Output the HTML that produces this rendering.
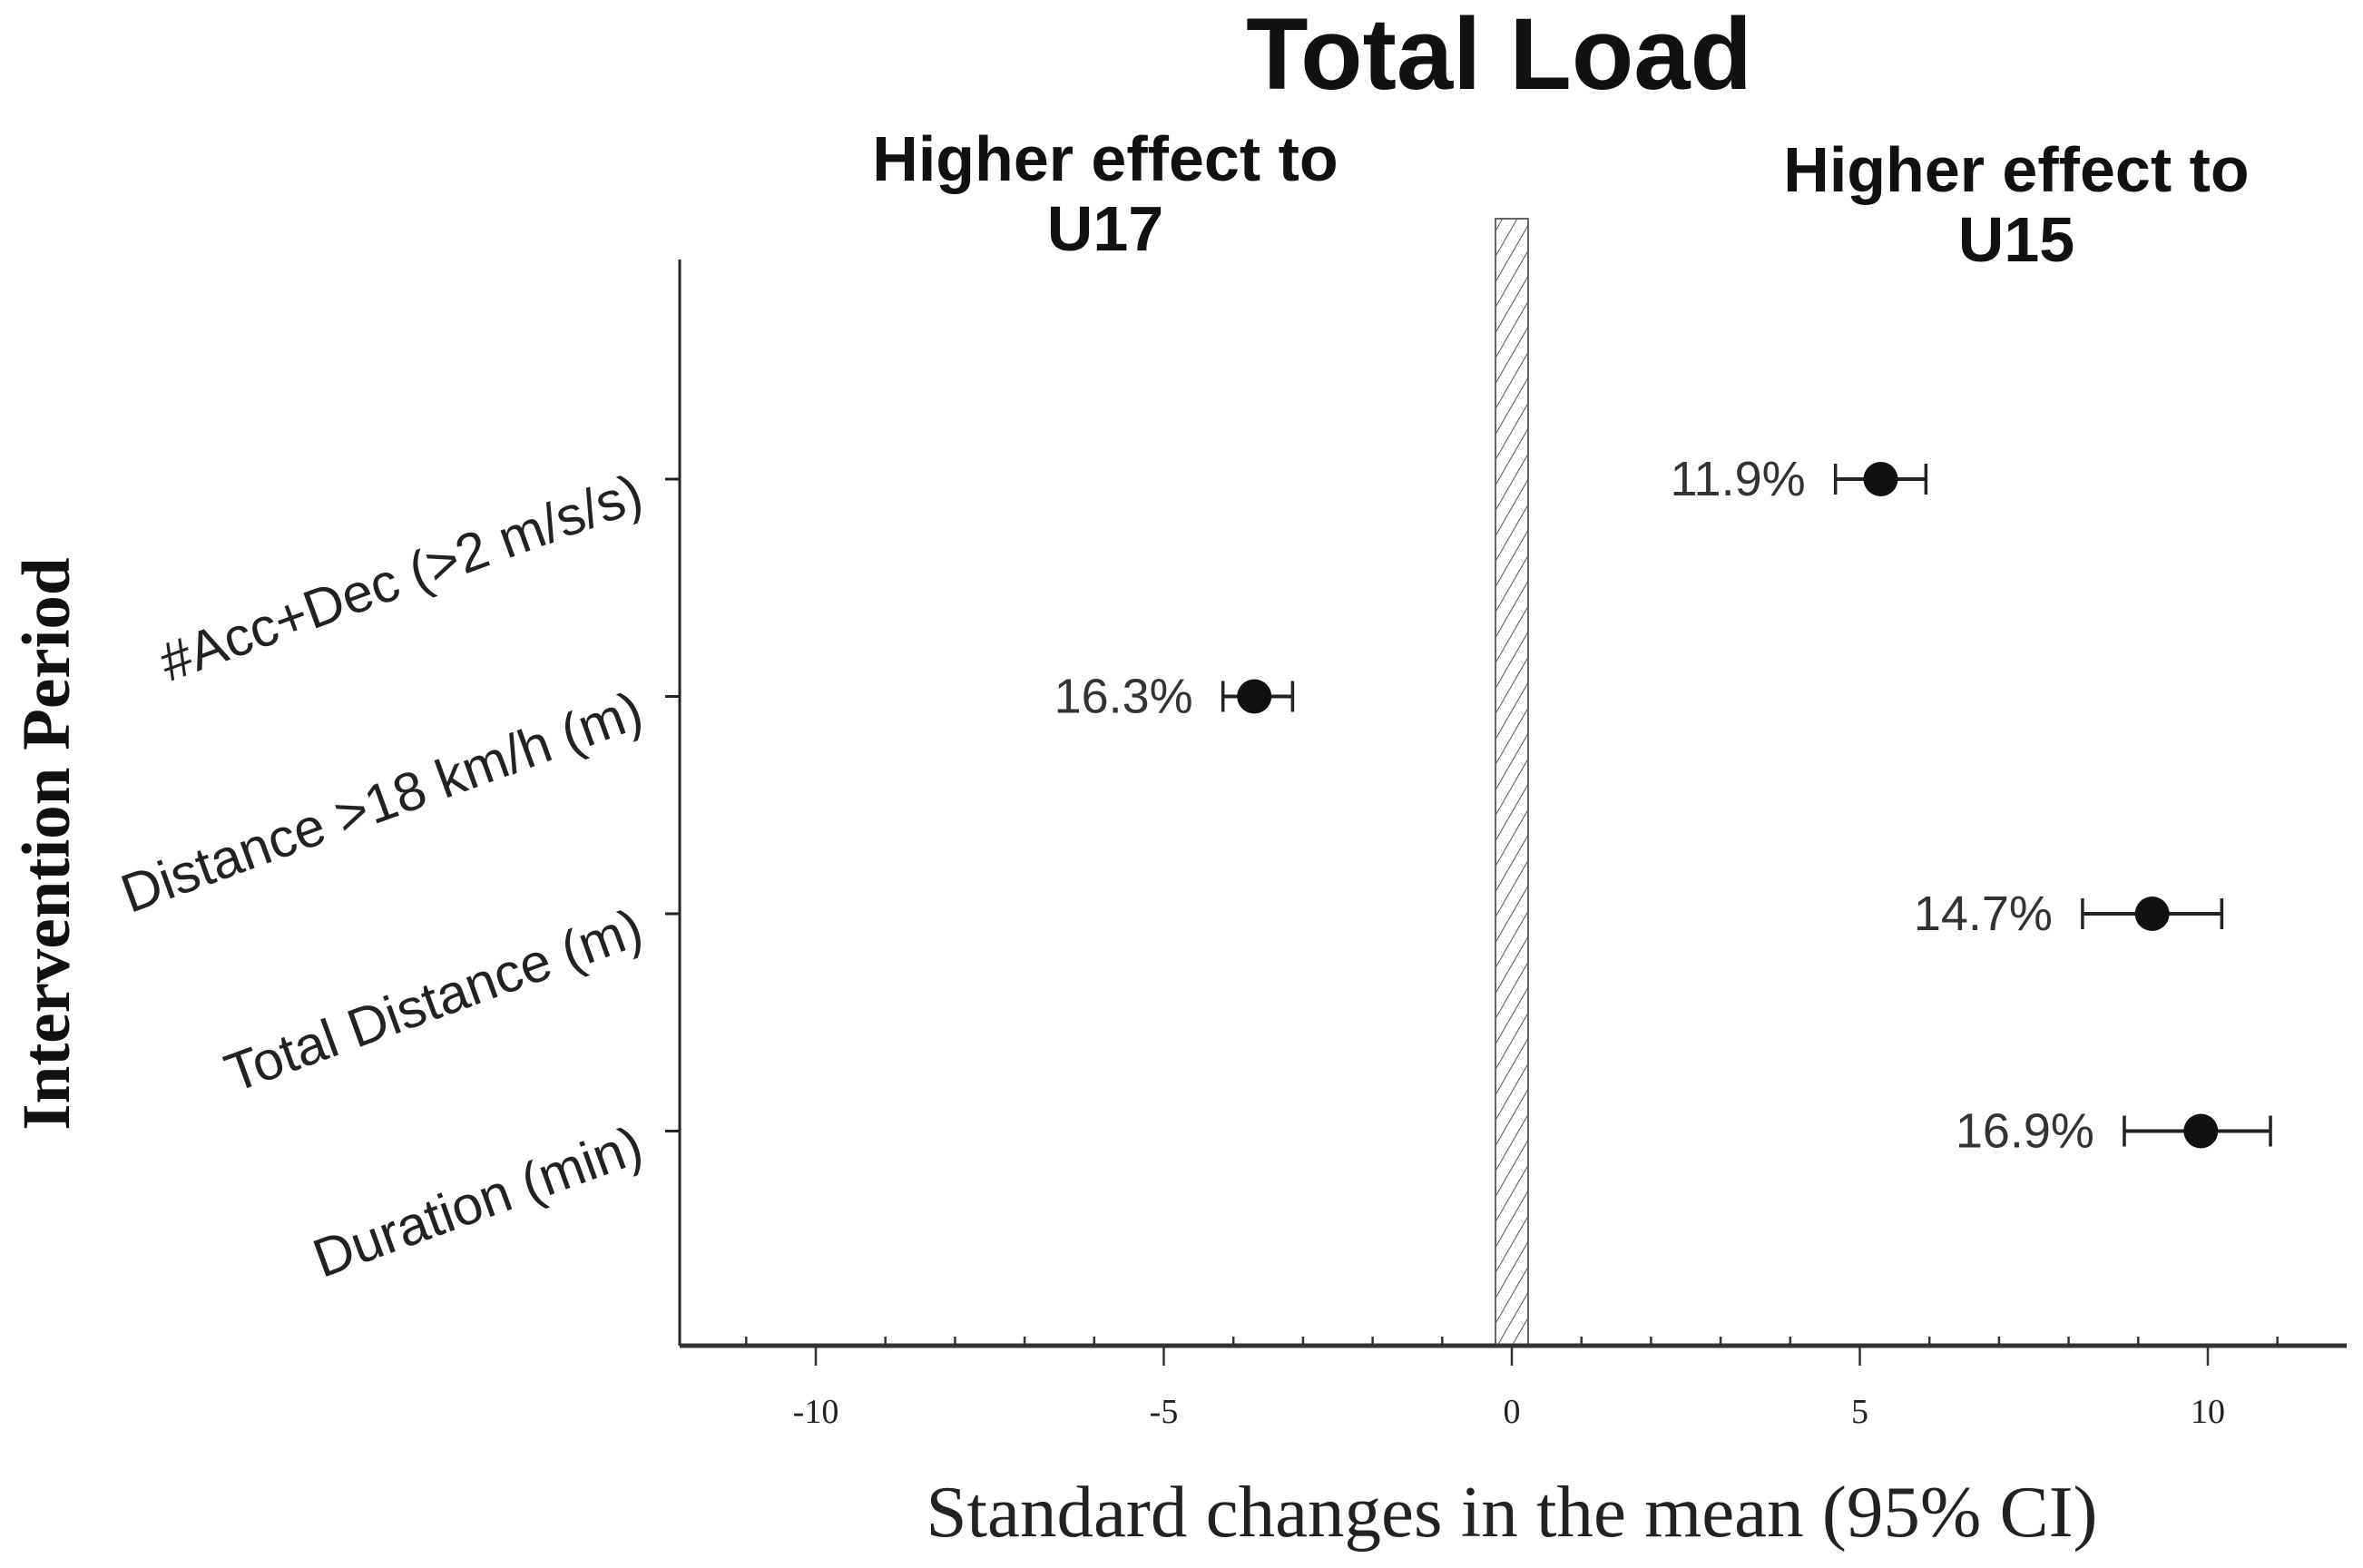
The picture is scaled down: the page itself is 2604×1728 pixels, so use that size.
<!DOCTYPE html>
<html><head><meta charset="utf-8"><style>html,body{margin:0;padding:0;background:#fff}svg{display:block}</style></head>
<body>
<svg id="chart" width="2604" height="1728" viewBox="0 0 2604 1728" xmlns="http://www.w3.org/2000/svg">
<defs><pattern id="hatch" patternUnits="userSpaceOnUse" width="14" height="14" patternTransform="rotate(30)"><rect width="14" height="14" fill="#fff"/><line x1="0" y1="0" x2="0" y2="14" stroke="#555" stroke-width="2"/></pattern></defs>
<text x="1652" y="98" text-anchor="middle" font-family="Liberation Sans, sans-serif" font-weight="bold" font-size="112" fill="#111">Total Load</text>
<text x="1218" y="199" text-anchor="middle" font-family="Liberation Sans, sans-serif" font-weight="bold" font-size="70" fill="#111">Higher effect to</text>
<text x="1218" y="276" text-anchor="middle" font-family="Liberation Sans, sans-serif" font-weight="bold" font-size="70" fill="#111">U17</text>
<text x="2222" y="211" text-anchor="middle" font-family="Liberation Sans, sans-serif" font-weight="bold" font-size="70" fill="#111">Higher effect to</text>
<text x="2222" y="288" text-anchor="middle" font-family="Liberation Sans, sans-serif" font-weight="bold" font-size="70" fill="#111">U15</text>
<text transform="translate(76,930) rotate(-90)" text-anchor="middle" font-family="Liberation Serif, serif" font-weight="bold" font-size="75" fill="#111">Intervention Period</text>
<text x="1666" y="1693" text-anchor="middle" font-family="Liberation Serif, serif" font-size="81" fill="#222">Standard changes in the mean (95% CI)</text>
<g id="plot"></g>
</svg>
<script>
const categories = ["#Acc+Dec (>2 m/s/s)", "Distance >18 km/h (m)", "Total Distance (m)", "Duration (min)"];
const means = [5.3, -3.7, 9.2, 9.9];
const lows = [4.65, -4.15, 8.2, 8.8];
const highs = [5.95, -3.15, 10.2, 10.9];
const pctLabels = ["11.9%", "16.3%", "14.7%", "16.9%"];
const majorTicks = [-10, -5, 0, 5, 10];
const tickLabels = ["-10", "-5", "0", "5", "10"];

const NS = "http://www.w3.org/2000/svg";
const g = document.getElementById("plot");
const X0 = 749, X1 = 2586, YTOP = 286, YB = 1483;
const xs = v => 1666 + v * 76.7;
const ys = i => 528 + i * 239.5;
function mk(tag, attrs, parent) {
  const e = document.createElementNS(NS, tag);
  for (const k in attrs) e.setAttribute(k, attrs[k]);
  (parent || g).appendChild(e);
  return e;
}
let e = mk("rect", {x: xs(0) - 18, y: 241, width: 36, height: YB - 241, fill: "url(#hatch)", stroke: "#666", "stroke-width": 2});


e = mk("line", {x1: X0, y1: YTOP, x2: X0, y2: YB, stroke: "#222", "stroke-width": 3});


e = mk("line", {x1: X0, y1: YB, x2: X1, y2: YB, stroke: "#333", "stroke-width": 5});


for (let v = -12; v <= 12; v++) {
  const x = xs(v);
  if (x < X0 + 5 || x > X1) continue;
  if (v % 5 === 0) continue;
  e = mk("line", {x1: x, y1: YB, x2: x, y2: YB - 10, stroke: "#333", "stroke-width": 2.5});
  
  
}
majorTicks.forEach((v, i) => {
  e = mk("line", {x1: xs(v), y1: YB, x2: xs(v), y2: YB + 22, stroke: "#333", "stroke-width": 2.5});
  
  
  e = mk("text", {x: xs(v), y: 1568, "text-anchor": "middle", "font-family": "Liberation Serif, serif", "font-size": 38, fill: "#222"});
  e.textContent = tickLabels[i];
  
  
});
categories.forEach((c, i) => {
  const y = ys(i);
  e = mk("line", {x1: X0 - 16, y1: y, x2: X0, y2: y, stroke: "#222", "stroke-width": 3});
  
  
  e = mk("text", {transform: "translate(712," + (y + 32) + ") rotate(-20)", "text-anchor": "end", "font-family": "Liberation Sans, sans-serif", "font-size": 60, fill: "#222"});
  e.textContent = c;
  
  
  e = mk("line", {x1: xs(lows[i]), y1: y, x2: xs(highs[i]), y2: y, stroke: "#222", "stroke-width": 4});
  
  
  [lows[i], highs[i]].forEach(v => {
    e = mk("line", {x1: xs(v), y1: y - 17, x2: xs(v), y2: y + 17, stroke: "#222", "stroke-width": 3.5});
    
    
  });
  e = mk("circle", {cx: xs(means[i]), cy: y, r: 19, fill: "#111"});
  
  
  e = mk("text", {x: xs(lows[i]) - 33, y: y + 18, "text-anchor": "end", "font-family": "Liberation Sans, sans-serif", "font-size": 54, fill: "#333"});
  e.textContent = pctLabels[i];
  
  
});
</script>
</body></html>
